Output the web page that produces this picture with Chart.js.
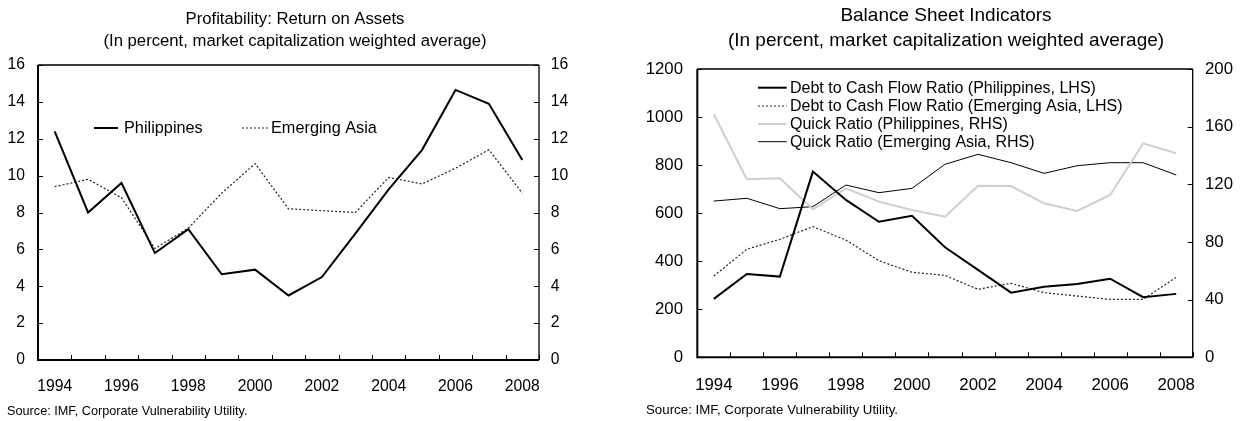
<!DOCTYPE html>
<html>
<head>
<meta charset="utf-8">
<script src="https://cdn.jsdelivr.net/npm/chart.js@4.4.1/dist/chart.umd.min.js"></script>
<style>
  body { margin: 0; background: #fff; width: 1246px; height: 421px; overflow: hidden; position: relative; }
  .box { position: absolute; top: 0; height: 421px; }
  #b1 { left: 0; width: 610px; }
  #b2 { left: 610px; width: 636px; }
</style>
</head>
<body>
<div class="box" id="b1"><canvas id="c1"></canvas></div>
<div class="box" id="b2"><canvas id="c2"></canvas></div>
<script>
// data
const years = ['1994', '1995', '1996', '1997', '1998', '1999', '2000', '2001',
  '2002', '2003', '2004', '2005', '2006', '2007', '2008'];

// Return on assets, percent
const roaPhilippines = [12.4, 8.0, 9.6, 5.8, 7.1, 4.65, 4.9, 3.5, 4.5, 6.85, 9.25, 11.4, 14.65, 13.9, 10.85];
const roaEmergingAsia = [9.4, 9.8, 8.8, 6.05, 7.15, 9.05, 10.65, 8.2, 8.1, 8.0, 9.9, 9.55, 10.4, 11.4, 9.05];

// Debt to cash flow ratio (LHS)
const debtCfPhilippines = [243, 347, 336, 773, 655, 564, 589, 458, 364, 269, 294, 305, 327, 250, 264];
const debtCfEmergingAsia = [338, 450, 491, 544, 488, 402, 354, 341, 283, 308, 269, 255, 241, 241, 333];

// Quick ratio (RHS)
const quickPhilippines = [168.6, 123.5, 124.2, 102.7, 117.2, 108, 102.2, 97.5, 119, 118.8, 106.8, 101.5, 112.6, 148.4, 141.5];
const quickEmergingAsia = [108.4, 110.3, 103.1, 104.5, 119.5, 114.2, 117.2, 133.9, 140.8, 135, 127.6, 132.9, 135, 135, 126.5];

const FONT = '"Liberation Sans", Arial, sans-serif';
const INK = '#000';

// box round the plot area
const framePlugin = {
  id: 'frame',
  afterDatasetsDraw(chart) {
    const { ctx, chartArea: a } = chart;
    ctx.save();
    ctx.strokeStyle = INK;
    ctx.lineWidth = 1.3;
    ctx.beginPath();
    ctx.moveTo(a.left, a.top); ctx.lineTo(a.right, a.top);
    ctx.moveTo(a.right, a.top); ctx.lineTo(a.right, a.bottom);
    ctx.stroke();
    ctx.lineWidth = 2;
    ctx.beginPath();
    ctx.moveTo(a.left, a.top); ctx.lineTo(a.left, a.bottom); ctx.lineTo(a.right, a.bottom);
    ctx.stroke();
    ctx.restore();
  }
};

// short tick marks pointing into the plot
const innerTicksPlugin = {
  id: 'innerTicks',
  afterDatasetsDraw(chart) {
    const { ctx, chartArea: a } = chart;
    const len = 5;
    ctx.save();
    ctx.strokeStyle = INK;
    ctx.lineWidth = 1;
    ctx.beginPath();
    Object.values(chart.scales).forEach(s => {
      if (s.axis === 'x') {
        const n = s.getLabels().length;
        for (let i = 0; i <= n; i++) {
          const x = Math.round(s.getPixelForValue(i - 0.5)) + 0.5;
          ctx.moveTo(x, a.bottom); ctx.lineTo(x, a.bottom - len);
        }
      } else {
        s.ticks.forEach(t => {
          const y = Math.round(s.getPixelForValue(t.value)) + 0.5;
          if (s.position === 'left') { ctx.moveTo(a.left, y); ctx.lineTo(a.left + len, y); }
          else { ctx.moveTo(a.right, y); ctx.lineTo(a.right - len, y); }
        });
      }
    });
    ctx.stroke();
    ctx.restore();
  }
};

// legend drawn inside the plot area
const innerLegendPlugin = {
  id: 'innerLegend',
  afterDraw(chart, args, opts) {
    const { ctx, chartArea: a } = chart;
    ctx.save();
    ctx.font = opts.size + 'px ' + FONT;
    ctx.textBaseline = 'middle';
    ctx.fillStyle = INK;
    opts.items.forEach((it, i) => {
      const ds = chart.data.datasets[i];
      const x = a.left + it.x, y = a.top + it.y;
      ctx.save();
      ctx.strokeStyle = ds.borderColor;
      ctx.lineWidth = ds.borderWidth;
      ctx.setLineDash(ds.borderDash || []);
      ctx.beginPath();
      ctx.moveTo(x, y); ctx.lineTo(x + it.len, y);
      ctx.stroke();
      ctx.restore();
      ctx.fillText(ds.label, x + it.len + it.gap, y + 1);
    });
    ctx.restore();
  }
};

function xAxis(size, pad, height) {
  return {
    type: 'category',
    offset: true,
    grid: { display: false, drawTicks: false },
    border: { display: false },
    ticks: {
      autoSkip: false, maxRotation: 0, padding: pad, color: INK,
      font: { family: FONT, size: size },
      callback: (v, i) => (i % 2 === 0 ? years[i] : '')
    },
    afterFit(s) { s.height = height; }
  };
}

function yAxis(pos, max, step, size, pad, width) {
  return {
    position: pos,
    min: 0, max: max,
    grid: { display: false, drawTicks: false },
    border: { display: false },
    ticks: {
      stepSize: step, padding: pad, color: INK,
      font: { family: FONT, size: size },
      callback: v => String(v)
    },
    afterFit(s) { s.width = width; }
  };
}

function line(label, data, color, width, dash, axis) {
  return {
    label, data, borderColor: color, borderWidth: width, borderDash: dash,
    pointRadius: 0, tension: 0, fill: false, yAxisID: axis
  };
}

Chart.defaults.font.family = FONT;
Chart.defaults.color = INK;

new Chart(document.getElementById('c1'), {
  type: 'line',
  data: {
    labels: years,
    datasets: [
      line('Philippines', roaPhilippines, '#000', 2, [], 'y'),
      line('Emerging Asia', roaEmergingAsia, '#222', 1.2, [2, 2], 'y')
    ]
  },
  options: {
    responsive: true,
    maintainAspectRatio: false,
    animation: false,
    devicePixelRatio: 1,
    layout: { padding: { left: 7, right: 27, top: 0, bottom: 0 } },
    scales: {
      x: xAxis(15.7, 17, 39.76),
      y: yAxis('left', 16, 2, 15.7, 13, 31),
      y2: yAxis('right', 16, 2, 15.7, 11.7, 44)
    },
    plugins: {
      legend: { display: false },
      tooltip: { enabled: false },
      title: {
        display: true,
        text: ['Profitability: Return on Assets', '(In percent, market capitalization weighted average)'],
        color: INK,
        font: { family: FONT, size: 16.7, weight: 'normal', lineHeight: 1.28 },
        padding: { top: 9, bottom: 13.25 }
      },
      subtitle: {
        display: true,
        position: 'bottom',
        align: 'start',
        text: 'Source: IMF, Corporate Vulnerability Utility.',
        color: INK,
        font: { family: FONT, size: 12.7, lineHeight: 1.2 },
        padding: { top: 4, bottom: 2 }
      },
      innerLegend: {
        size: 16.3,
        items: [{ x: 56, y: 63, len: 24, gap: 6 }, { x: 204, y: 63, len: 28, gap: 1 }]
      }
    }
  },
  plugins: [framePlugin, innerTicksPlugin, innerLegendPlugin]
});

new Chart(document.getElementById('c2'), {
  type: 'line',
  data: {
    labels: years,
    datasets: [
      line('Debt to Cash Flow Ratio (Philippines, LHS)', debtCfPhilippines, '#000', 2, [], 'y'),
      line('Debt to Cash Flow Ratio (Emerging Asia, LHS)', debtCfEmergingAsia, '#222', 1.2, [2, 2], 'y'),
      line('Quick Ratio (Philippines, RHS)', quickPhilippines, '#cfcfcf', 2, [], 'y2'),
      line('Quick Ratio (Emerging Asia, RHS)', quickEmergingAsia, '#000', 1, [], 'y2')
    ]
  },
  options: {
    responsive: true,
    maintainAspectRatio: false,
    animation: false,
    devicePixelRatio: 1,
    layout: { padding: { left: 36, right: 0, top: 0, bottom: 0 } },
    scales: {
      x: xAxis(16.8, 17.5, 41.44),
      y: yAxis('left', 1200, 200, 16.8, 14.3, 51.3),
      y2: yAxis('right', 200, 40, 16.8, 12.3, 53.3)
    },
    plugins: {
      legend: { display: false },
      tooltip: { enabled: false },
      title: {
        display: true,
        text: ['Balance Sheet Indicators', '(In percent, market capitalization weighted average)'],
        color: INK,
        font: { family: FONT, size: 19, weight: 'normal', lineHeight: 1.3 },
        padding: { top: 3.9, bottom: 15.7 }
      },
      subtitle: {
        display: true,
        position: 'bottom',
        align: 'start',
        text: 'Source: IMF, Corporate Vulnerability Utility.',
        color: INK,
        font: { family: FONT, size: 13.3, lineHeight: 1.2 },
        padding: { top: 4, bottom: 2.3 }
      },
      innerLegend: {
        size: 16,
        items: [
          { x: 60.7, y: 18.7, len: 28.7, gap: 3.3 },
          { x: 60.7, y: 37, len: 28.7, gap: 3.3 },
          { x: 60.7, y: 55, len: 28.7, gap: 3.3 },
          { x: 60.7, y: 72.7, len: 28.7, gap: 3.3 }
        ]
      }
    }
  },
  plugins: [framePlugin, innerTicksPlugin, innerLegendPlugin]
});
</script>
</body>
</html>
